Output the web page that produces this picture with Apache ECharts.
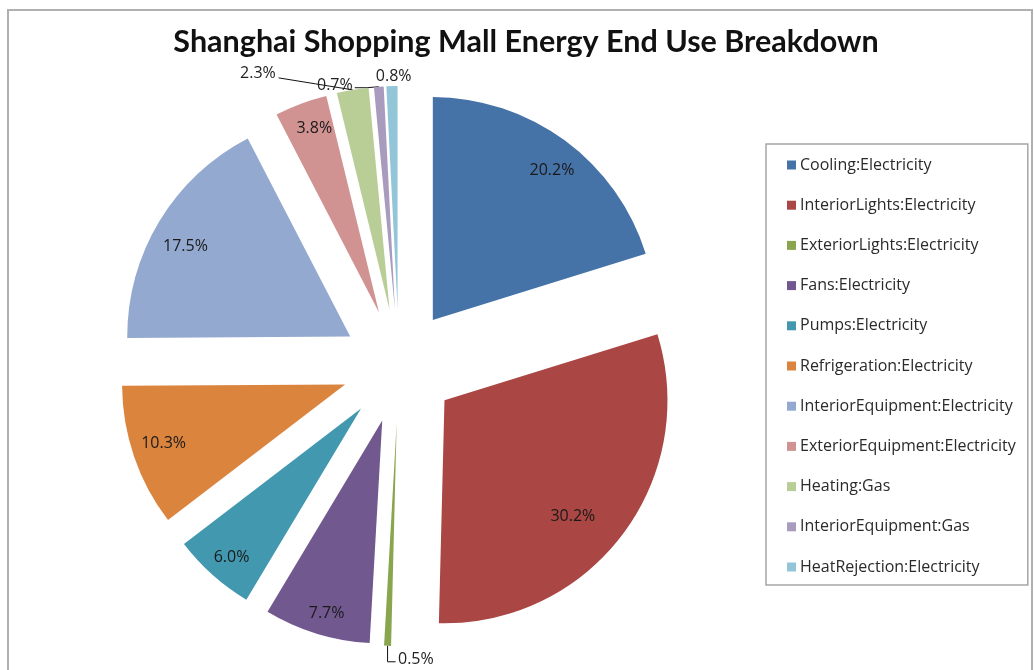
<!DOCTYPE html>
<html>
<head>
<meta charset="utf-8">
<script src="https://cdn.jsdelivr.net/npm/echarts@6/dist/echarts.min.js"></script>
<style>
html,body{margin:0;padding:0;background:#fff;}
#chart{width:1034px;height:670px;}
</style>
</head>
<body>
<div id="chart"></div>
<script>
// ---- data ----
var titleText = 'Shanghai Shopping Mall Energy End Use Breakdown';
var categories = [
  'Cooling:Electricity',
  'InteriorLights:Electricity',
  'ExteriorLights:Electricity',
  'Fans:Electricity',
  'Pumps:Electricity',
  'Refrigeration:Electricity',
  'InteriorEquipment:Electricity',
  'ExteriorEquipment:Electricity',
  'Heating:Gas',
  'InteriorEquipment:Gas',
  'HeatRejection:Electricity'
];
var percents = [20.2, 30.2, 0.5, 7.7, 6.0, 10.3, 17.5, 3.8, 2.3, 0.7, 0.8];
var colors = ['#4572A7','#AA4643','#89A54E','#71588F','#4198AF','#DB843D','#93A9CF','#D19392','#B9CD96','#A99BBD','#92C5D8'];

var FONT = '"Open Sans", "Liberation Sans", sans-serif';
var CX = 399, CY = 366, R = 223, OFFSET = 57;
var OUT_LIMIT = 3;

// small text nudges (dx, dy) for inside labels, styling only
var labelNudge = { 0: [3, 8], 1: [-28, -2], 3: [2, 6], 4: [1, 3], 5: [4, -5], 6: [3, 11], 7: [4, -1] };

function fmtPct(v) { return v.toFixed(1) + '%'; }

// per-item outside label settings (line lengths, alignment, text nudges)
var outerCfg = {
  2:  { len: 14, len2: 0,  align: 'left',   padding: [0, 0, 0, 16], line: function (s) { return [s, [s[0], s[1] + 16], [s[0] + 8, s[1] + 16]]; } },
  8:  { len: 17, len2: 69, align: 'right',  padding: 0, line: function (s) { return [s, [s[0] - 37, s[1] - 6], [s[0] - 74, s[1] - 12]]; } },
  9:  { len: 1,  len2: 21, align: 'right',  padding: 0, line: function (s) { return [s, [s[0] - 12, s[1] + 1], [s[0] - 24, s[1] + 1]]; } },
  10: { len: 10, len2: 0,  align: 'center', padding: [0, 0, 0, 14], line: function (s) { return [s, s, s]; } }
};

var chart = echarts.init(document.getElementById('chart'));

var mainData = categories.map(function (n, i) {
  var cfg = outerCfg[i];
  var item = {
    name: n, value: percents[i], selected: true,
    itemStyle: { color: colors[i] },
    label: { show: !!cfg },
    labelLine: { show: !!cfg }
  };
  if (cfg) {
    item.label.padding = cfg.padding;
    item.labelLine.length = cfg.len;
    item.labelLine.length2 = cfg.len2;
  }
  return item;
});

var labelData = categories.map(function (n, i) {
  var inner = percents[i] >= OUT_LIMIT;
  var lab = { show: inner };
  var d = labelNudge[i];
  if (inner && d) {
    var dx = d[0], dy = d[1];
    lab.padding = [0, dx < 0 ? -2 * dx : 0, 0, dx > 0 ? 2 * dx : 0];
    var txt = '{t|' + fmtPct(percents[i]) + '}';
    if (dy > 0) txt = '{s| }\n' + txt;
    else if (dy < 0) txt = txt + '\n{s| }';
    lab.formatter = txt;
    lab.rich = {
      t: { fontFamily: FONT, fontSize: 16, color: '#1a1a1a', lineHeight: 20 },
      s: { fontSize: 1, lineHeight: Math.max(1, 2 * Math.abs(dy)) }
    };
  }
  return { name: n, value: percents[i], selected: true, label: lab };
});

var option = {
  animation: false,
  backgroundColor: '#ffffff',
  title: {
    text: titleText,
    left: 521, top: 22, textAlign: 'center',
    textStyle: { fontFamily: 'Lato, "Open Sans", sans-serif', fontWeight: 'bold', fontSize: 30.5, color: '#111' }
  },
  legend: {
    orient: 'vertical',
    left: 766, top: 144,
    padding: [13, 12, 10, 21],
    itemWidth: 9, itemHeight: 9, itemGap: 24.2,
    icon: 'rect',
    borderColor: '#a6a6a6', borderWidth: 1.5,
    selectedMode: false,
    data: categories,
    textStyle: { fontFamily: FONT, fontSize: 16, color: '#2a2a2a', lineHeight: 14, padding: [0, 0, 0, -1] }
  },
  graphic: [{
    type: 'rect', silent: true, z: -1,
    shape: { x: 8, y: 10, width: 1024, height: 680 },
    style: { fill: 'none', stroke: '#b0b0b0', lineWidth: 2 }
  }],
  series: [
    {
      type: 'pie',
      name: 'energy',
      center: [CX, CY],
      radius: [0, R],
      startAngle: 90,
      clockwise: true,
      selectedMode: 'multiple',
      selectedOffset: OFFSET,
      avoidLabelOverlap: false,
      emphasis: { disabled: true },
      itemStyle: { borderWidth: 0 },
      label: {
        position: 'outside',
        formatter: function (p) { return fmtPct(p.value); },
        fontFamily: FONT, fontSize: 16, color: '#222'
      },
      labelLine: { length: 5, length2: 10, lineStyle: { color: '#111', width: 1 } },
      labelLayout: function (p) {
        var cfg = outerCfg[p.dataIndex];
        if (!cfg) return {};
        var res = { align: cfg.align, verticalAlign: 'middle' };
        if (p.labelLinePoints) res.labelLinePoints = cfg.line(p.labelLinePoints[0]);
        return res;
      },
      data: mainData
    },
    {
      type: 'pie',
      name: 'labels',
      center: [CX, CY],
      radius: [163, R],
      startAngle: 90,
      clockwise: true,
      selectedMode: 'multiple',
      selectedOffset: OFFSET,
      silent: true,
      emphasis: { disabled: true },
      itemStyle: { color: 'rgba(0,0,0,0)' },
      label: {
        position: 'inside',
        formatter: function (p) { return fmtPct(p.value); },
        fontFamily: FONT, fontSize: 16, color: '#1a1a1a'
      },
      labelLine: { show: false },
      data: labelData
    }
  ]
};
chart.setOption(option);
</script>
</body>
</html>
